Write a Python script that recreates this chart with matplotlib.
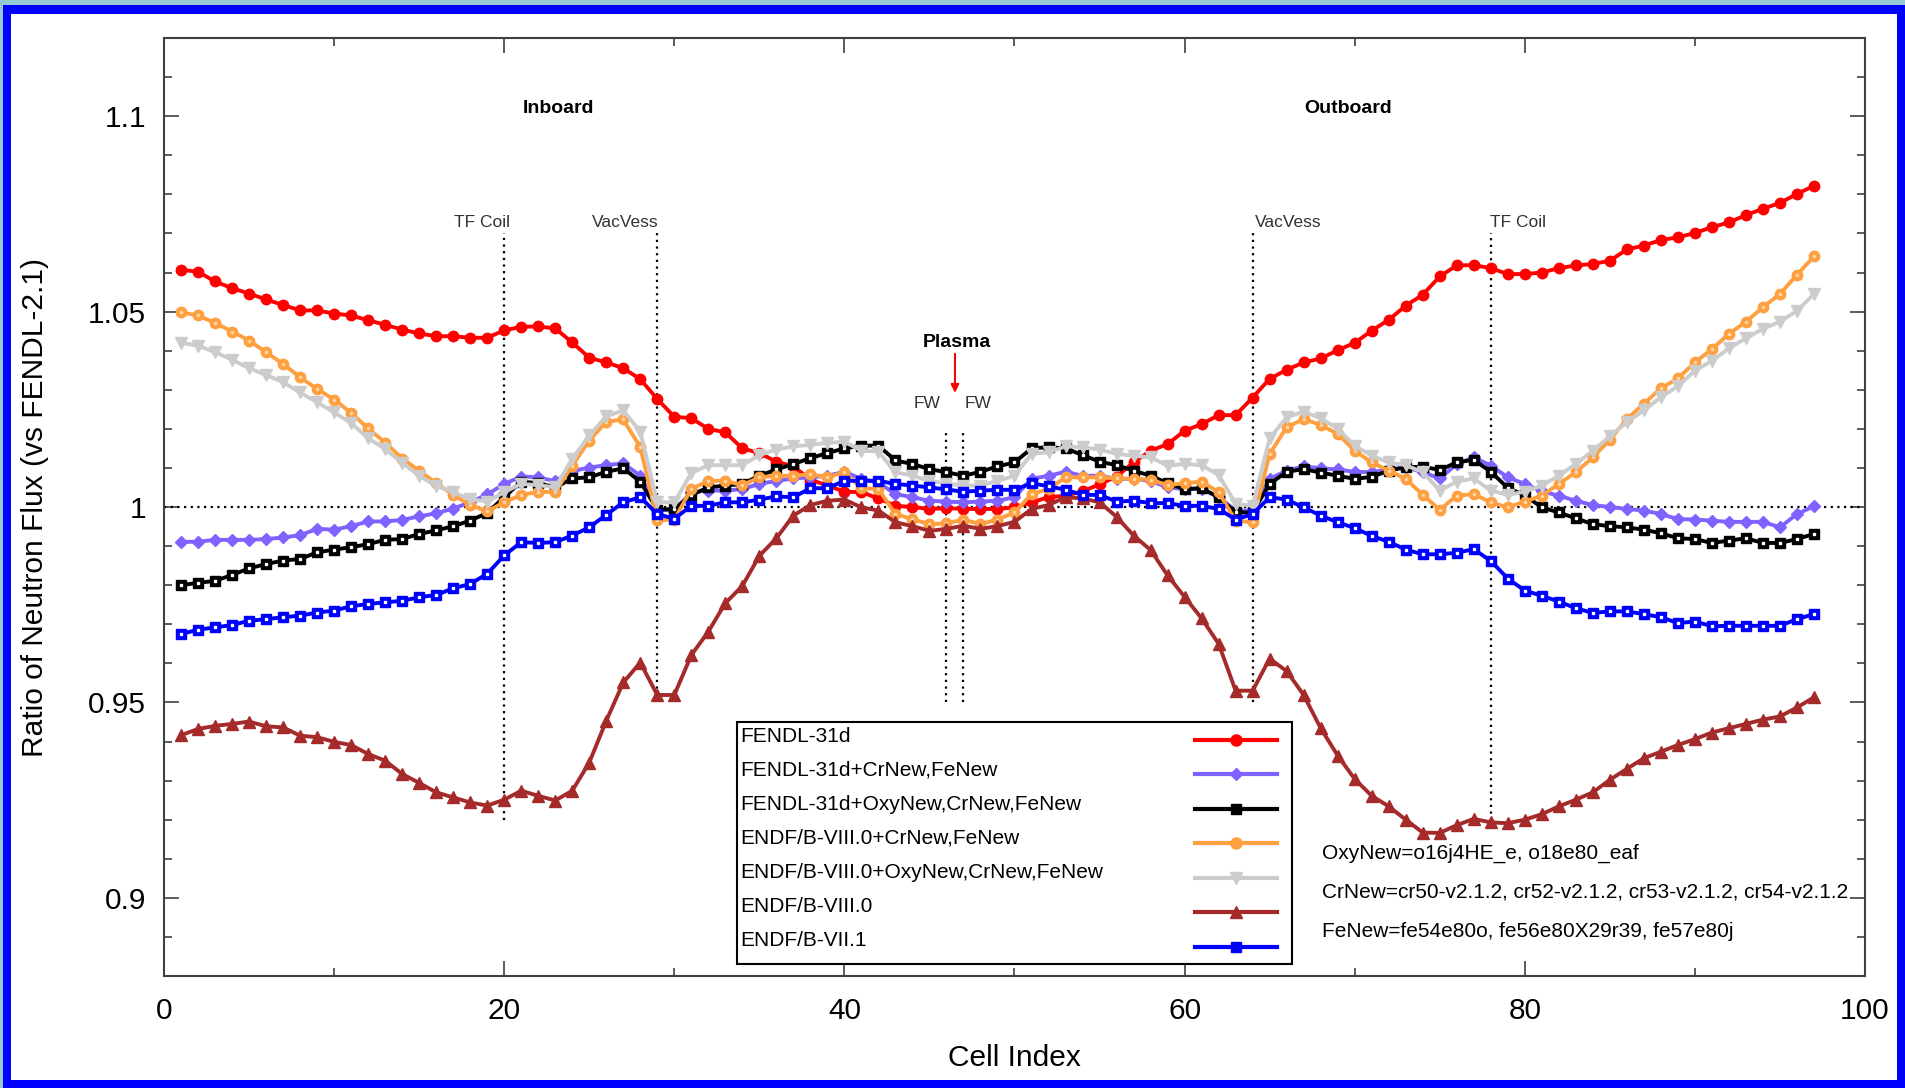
import numpy as np
import matplotlib
matplotlib.use("Agg")
import matplotlib.pyplot as plt
from matplotlib.patches import Rectangle
from matplotlib.lines import Line2D
from matplotlib.ticker import MultipleLocator, FuncFormatter

plt.rcParams['font.family'] = ['Liberation Sans', 'DejaVu Sans']

cell = np.arange(1, 98)

fendl31d = [
    1.0607, 1.0602, 1.0577, 1.0560, 1.0546, 1.0531, 1.0517, 1.0503, 1.0503, 1.0495,
    1.0490, 1.0478, 1.0466, 1.0454, 1.0444, 1.0437, 1.0437, 1.0433, 1.0433, 1.0452,
    1.0461, 1.0462, 1.0457, 1.0421, 1.0382, 1.0370, 1.0355, 1.0327, 1.0276, 1.0231,
    1.0227, 1.0200, 1.0191, 1.0150, 1.0138, 1.0116, 1.0104, 1.0070, 1.0055, 1.0039,
    1.0038, 1.0022, 1.0003, 1.0000, 0.9995, 0.9997, 0.9995, 0.9995, 0.9995, 0.9999,
    1.0012, 1.0025, 1.0029, 1.0040, 1.0058, 1.0078, 1.0114, 1.0144, 1.0161, 1.0195,
    1.0212, 1.0235, 1.0235, 1.0280, 1.0328, 1.0351, 1.0370, 1.0380, 1.0401, 1.0420,
    1.0451, 1.0479, 1.0515, 1.0543, 1.0590, 1.0618, 1.0619, 1.0611, 1.0596, 1.0596,
    1.0600, 1.0611, 1.0618, 1.0622, 1.0630, 1.0659, 1.0669, 1.0683, 1.0690, 1.0701,
    1.0716, 1.0728, 1.0747, 1.0763, 1.0778, 1.0801, 1.0822]

fendl31d_cr_fe = [
    0.9911, 0.9911, 0.9916, 0.9916, 0.9916, 0.9918, 0.9922, 0.9928, 0.9944, 0.9942,
    0.9951, 0.9963, 0.9963, 0.9967, 0.9976, 0.9984, 0.9996, 1.0012, 1.0032, 1.0059,
    1.0078, 1.0076, 1.0066, 1.0092, 1.0101, 1.0107, 1.0112, 1.0080, 0.9993, 0.9991,
    1.0038, 1.0042, 1.0042, 1.0046, 1.0059, 1.0067, 1.0073, 1.0076, 1.0080, 1.0090,
    1.0072, 1.0063, 1.0033, 1.0025, 1.0016, 1.0014, 1.0012, 1.0014, 1.0016, 1.0025,
    1.0072, 1.0080, 1.0090, 1.0080, 1.0080, 1.0072, 1.0072, 1.0067, 1.0050, 1.0046,
    1.0046, 1.0025, 0.9991, 0.9991, 1.0072, 1.0093, 1.0104, 1.0099, 1.0096, 1.0090,
    1.0089, 1.0096, 1.0102, 1.0089, 1.0073, 1.0110, 1.0127, 1.0106, 1.0076, 1.0059,
    1.0040, 1.0029, 1.0016, 1.0005, 1.0000, 0.9995, 0.9991, 0.9982, 0.9969, 0.9968,
    0.9965, 0.9962, 0.9962, 0.9962, 0.9948, 0.9982, 1.0002]

fendl31d_oxy_cr_fe = [
    0.9800, 0.9806, 0.9811, 0.9826, 0.9843, 0.9854, 0.9863, 0.9867, 0.9884, 0.9891,
    0.9897, 0.9905, 0.9916, 0.9918, 0.9931, 0.9940, 0.9951, 0.9965, 0.9985, 1.0025,
    1.0065, 1.0061, 1.0050, 1.0073, 1.0076, 1.0090, 1.0099, 1.0065, 0.9993, 0.9995,
    1.0031, 1.0050, 1.0055, 1.0059, 1.0080, 1.0096, 1.0110, 1.0125, 1.0138, 1.0150,
    1.0157, 1.0157, 1.0119, 1.0110, 1.0097, 1.0089, 1.0080, 1.0090, 1.0104, 1.0114,
    1.0150, 1.0153, 1.0150, 1.0133, 1.0116, 1.0107, 1.0093, 1.0080, 1.0061, 1.0046,
    1.0048, 1.0025, 0.9986, 0.9986, 1.0059, 1.0090, 1.0097, 1.0088, 1.0080, 1.0072,
    1.0077, 1.0093, 1.0102, 1.0103, 1.0095, 1.0114, 1.0121, 1.0090, 1.0049, 1.0030,
    0.9999, 0.9986, 0.9971, 0.9956, 0.9951, 0.9948, 0.9942, 0.9933, 0.9920, 0.9918,
    0.9908, 0.9914, 0.9920, 0.9908, 0.9908, 0.9918, 0.9931]

endf80_cr_fe = [
    1.0498, 1.0490, 1.0471, 1.0449, 1.0426, 1.0396, 1.0366, 1.0332, 1.0302, 1.0275,
    1.0241, 1.0201, 1.0165, 1.0124, 1.0093, 1.0061, 1.0031, 1.0005, 0.9989, 1.0012,
    1.0031, 1.0039, 1.0038, 1.0106, 1.0170, 1.0218, 1.0224, 1.0153, 0.9966, 0.9968,
    1.0046, 1.0067, 1.0067, 1.0056, 1.0076, 1.0080, 1.0080, 1.0084, 1.0076, 1.0089,
    1.0048, 1.0046, 0.9982, 0.9969, 0.9956, 0.9958, 0.9968, 0.9956, 0.9968, 0.9986,
    1.0033, 1.0046, 1.0076, 1.0076, 1.0076, 1.0073, 1.0072, 1.0070, 1.0056, 1.0061,
    1.0065, 1.0038, 0.9965, 0.9961, 1.0136, 1.0204, 1.0225, 1.0210, 1.0187, 1.0144,
    1.0114, 1.0093, 1.0072, 1.0031, 0.9993, 1.0029, 1.0033, 1.0012, 0.9999, 1.0014,
    1.0029, 1.0059, 1.0089, 1.0127, 1.0172, 1.0225, 1.0264, 1.0304, 1.0329, 1.0370,
    1.0404, 1.0443, 1.0474, 1.0511, 1.0545, 1.0594, 1.0641]

endf80_oxy_cr_fe = [
    1.0420, 1.0413, 1.0396, 1.0377, 1.0355, 1.0338, 1.0319, 1.0293, 1.0268, 1.0242,
    1.0215, 1.0176, 1.0148, 1.0113, 1.0080, 1.0054, 1.0038, 1.0020, 1.0014, 1.0038,
    1.0059, 1.0056, 1.0050, 1.0123, 1.0183, 1.0232, 1.0247, 1.0193, 1.0012, 1.0012,
    1.0087, 1.0107, 1.0107, 1.0107, 1.0133, 1.0147, 1.0155, 1.0159, 1.0164, 1.0167,
    1.0144, 1.0142, 1.0089, 1.0080, 1.0067, 1.0060, 1.0055, 1.0055, 1.0067, 1.0080,
    1.0136, 1.0140, 1.0155, 1.0153, 1.0147, 1.0136, 1.0131, 1.0127, 1.0106, 1.0110,
    1.0107, 1.0082, 1.0008, 1.0003, 1.0176, 1.0229, 1.0244, 1.0227, 1.0200, 1.0157,
    1.0131, 1.0114, 1.0107, 1.0089, 1.0042, 1.0065, 1.0073, 1.0042, 1.0031, 1.0039,
    1.0055, 1.0080, 1.0110, 1.0144, 1.0181, 1.0217, 1.0247, 1.0281, 1.0309, 1.0349,
    1.0374, 1.0406, 1.0432, 1.0456, 1.0474, 1.0502, 1.0545]

endf80 = [
    0.9416, 0.9432, 0.9440, 0.9445, 0.9451, 0.9439, 0.9436, 0.9415, 0.9411, 0.9399,
    0.9391, 0.9368, 0.9351, 0.9317, 0.9294, 0.9270, 0.9257, 0.9244, 0.9236, 0.9251,
    0.9274, 0.9261, 0.9249, 0.9274, 0.9346, 0.9453, 0.9551, 0.9602, 0.9519, 0.9519,
    0.9621, 0.9681, 0.9754, 0.9798, 0.9875, 0.9920, 0.9978, 1.0005, 1.0016, 1.0019,
    0.9999, 0.9991, 0.9961, 0.9951, 0.9939, 0.9944, 0.9952, 0.9944, 0.9951, 0.9962,
    0.9995, 1.0005, 1.0025, 1.0022, 1.0012, 0.9975, 0.9927, 0.9890, 0.9825, 0.9770,
    0.9715, 0.9650, 0.9530, 0.9530, 0.9612, 0.9580, 0.9519, 0.9434, 0.9364, 0.9304,
    0.9261, 0.9234, 0.9200, 0.9167, 0.9166, 0.9186, 0.9202, 0.9193, 0.9191, 0.9200,
    0.9214, 0.9234, 0.9251, 0.9270, 0.9302, 0.9330, 0.9357, 0.9374, 0.9391, 0.9406,
    0.9423, 0.9434, 0.9445, 0.9456, 0.9464, 0.9487, 0.9513]

endf71 = [
    0.9675, 0.9686, 0.9692, 0.9698, 0.9709, 0.9713, 0.9718, 0.9722, 0.9730, 0.9735,
    0.9746, 0.9752, 0.9756, 0.9760, 0.9769, 0.9775, 0.9792, 0.9803, 0.9829, 0.9876,
    0.9910, 0.9908, 0.9910, 0.9927, 0.9948, 0.9980, 1.0012, 1.0025, 0.9982, 0.9970,
    1.0003, 1.0003, 1.0012, 1.0012, 1.0019, 1.0027, 1.0025, 1.0048, 1.0048, 1.0067,
    1.0067, 1.0067, 1.0059, 1.0055, 1.0050, 1.0045, 1.0039, 1.0042, 1.0044, 1.0044,
    1.0061, 1.0053, 1.0044, 1.0031, 1.0031, 1.0014, 1.0016, 1.0010, 1.0010, 1.0003,
    1.0003, 0.9995, 0.9968, 0.9982, 1.0025, 1.0019, 0.9999, 0.9978, 0.9961, 0.9946,
    0.9926, 0.9911, 0.9891, 0.9879, 0.9879, 0.9883, 0.9892, 0.9862, 0.9817, 0.9786,
    0.9773, 0.9758, 0.9741, 0.9729, 0.9733, 0.9733, 0.9726, 0.9718, 0.9703, 0.9707,
    0.9695, 0.9696, 0.9696, 0.9696, 0.9696, 0.9713, 0.9726]

labels = ["FENDL-31d", "FENDL-31d+CrNew,FeNew", "FENDL-31d+OxyNew,CrNew,FeNew",
          "ENDF/B-VIII.0+CrNew,FeNew", "ENDF/B-VIII.0+OxyNew,CrNew,FeNew",
          "ENDF/B-VIII.0", "ENDF/B-VII.1"]
series = [fendl31d, fendl31d_cr_fe, fendl31d_oxy_cr_fe, endf80_cr_fe,
          endf80_oxy_cr_fe, endf80, endf71]
colors = ["#ff0000", "#7f62ff", "#000000", "#ffa040", "#cccccc", "#a52a2a", "#0000ff"]
markers = ["o", "D", "s", "o", "v", "^", "s"]
msizes = [7.5, 6, 7, 7.5, 8, 8, 7]
centers = [None, None, "white", "#ffd6a8", None, None, "white"]

# region boundaries (cell index, y extent)
bound_x = [20, 29, 46, 47, 64, 78]
bound_lo = [0.92, 0.95, 0.95, 0.95, 0.95, 0.918]
bound_hi = [1.07, 1.07, 1.02, 1.02, 1.07, 1.07]

notes = ["OxyNew=o16j4HE_e, o18e80_eaf",
         "CrNew=cr50-v2.1.2, cr52-v2.1.2, cr53-v2.1.2, cr54-v2.1.2",
         "FeNew=fe54e80o, fe56e80X29r39, fe57e80j"]

W, H = 1905, 1088
fig = plt.figure(figsize=(W / 100, H / 100), dpi=100)
fig.patch.set_facecolor("#94c9d3")
fig.add_artist(Rectangle((3 / W, 0), 1 - 3 / W, 1 - 5 / H, transform=fig.transFigure,
                         facecolor="#0000ff", edgecolor="none", zorder=-3))
fig.add_artist(Rectangle((11 / W, 8 / H), 1 - 19 / W, 1 - 22 / H, transform=fig.transFigure,
                         facecolor="white", edgecolor="none", zorder=-2))

ax = fig.add_axes([164 / W, 112 / H, 1701 / W, 938 / H])
ax.set_facecolor("none")

for y, c, m, ms, cc in zip(series, colors, markers, msizes, centers):
    ax.plot(cell, y, color=c, lw=2.8, marker=m, ms=ms, mec=c, mfc=c, zorder=3)
    if cc is not None:
        ax.plot(cell, y, ls="none", marker=m, ms=1.6, color=cc, mec=cc, zorder=3)

ax.axhline(1.0, color="black", ls=(0, (1, 2)), lw=1.6, zorder=2)
ax.vlines(bound_x, bound_lo, bound_hi, colors="black", linestyles=[(0, (1, 2))], lw=1.6, zorder=2)

lab_kw = dict(fontsize=12.5, color="#333333", va="center")
ax.text(18.7, 1.0727, "TF Coil", ha="center", **lab_kw)
ax.text(27.1, 1.0727, "VacVess", ha="center", **lab_kw)
ax.text(66.1, 1.0727, "VacVess", ha="center", **lab_kw)
ax.text(79.6, 1.0727, "TF Coil", ha="center", **lab_kw)
ax.text(44.85, 1.0266, "FW", ha="center", **lab_kw)
ax.text(47.85, 1.0266, "FW", ha="center", **lab_kw)
ax.text(23.2, 1.102, "Inboard", ha="center", va="center", fontsize=14, fontweight="bold")
ax.text(69.6, 1.102, "Outboard", ha="center", va="center", fontsize=14, fontweight="bold")
ax.text(46.6, 1.042, "Plasma", ha="center", va="center", fontsize=14, fontweight="bold")
ax.annotate("", xy=(46.5, 1.0292), xytext=(46.5, 1.0392),
            arrowprops=dict(arrowstyle="-|>", color="red", lw=1.5, mutation_scale=12,
                            shrinkA=0, shrinkB=0))

for i, t in enumerate(notes):
    ax.text(68.1, 0.9115 - 0.0101 * i, t, fontsize=15, ha="left", va="center")

# legend drawn by hand: labels left-aligned, samples on the right
lx0, lx1 = 0.3369, 0.6631
ly0, ly1 = 0.0128, 0.2708
ax.add_patch(Rectangle((lx0, ly0), lx1 - lx0, ly1 - ly0, transform=ax.transAxes,
                       facecolor="white", edgecolor="black", lw=1.5, zorder=5))
for i, (lab, c, m, ms) in enumerate(zip(labels, colors, markers, msizes)):
    ty = (976 - (736 + 34.1 * i)) / 938
    sy = (976 - (739.5 + 34.5 * i)) / 938
    ax.text(0.3385, ty, lab, transform=ax.transAxes, fontsize=15, ha="left", va="center", zorder=6)
    ax.add_line(Line2D([0.6061, 0.6546], [sy, sy], transform=ax.transAxes, color=c, lw=3, zorder=6))
    ax.add_line(Line2D([0.6304], [sy], transform=ax.transAxes, color=c, marker=m, ms=ms + 0.5,
                       mec=c, mfc=c, zorder=6))

ax.set_xlim(0, 100)
ax.set_ylim(0.88, 1.12)
ax.xaxis.set_major_locator(MultipleLocator(20))
ax.xaxis.set_minor_locator(MultipleLocator(10))
ax.yaxis.set_major_locator(MultipleLocator(0.05))
ax.yaxis.set_minor_locator(MultipleLocator(0.01))
ax.yaxis.set_major_formatter(FuncFormatter(lambda v, p: "%g" % round(v, 3)))
ax.tick_params(which="both", direction="in", top=True, right=True, color="#404040",
               labelsize=21.5, width=1.2)
ax.tick_params(which="major", length=11)
ax.tick_params(which="minor", length=6)
ax.tick_params(axis="y", pad=13)
ax.tick_params(axis="x", pad=15)
for s in ax.spines.values():
    s.set_color("#404040")
    s.set_linewidth(1.5)

ax.set_xlabel("Cell Index", fontsize=21.5)
ax.xaxis.set_label_coords(0.5, -0.072)
fig.text(35 / W, 1 - 507 / H, "Ratio of Neutron Flux (vs FENDL-2.1)", rotation=90,
         ha="center", va="center", fontsize=21.5)

fig.savefig("out.png", dpi=100, facecolor=fig.get_facecolor())
